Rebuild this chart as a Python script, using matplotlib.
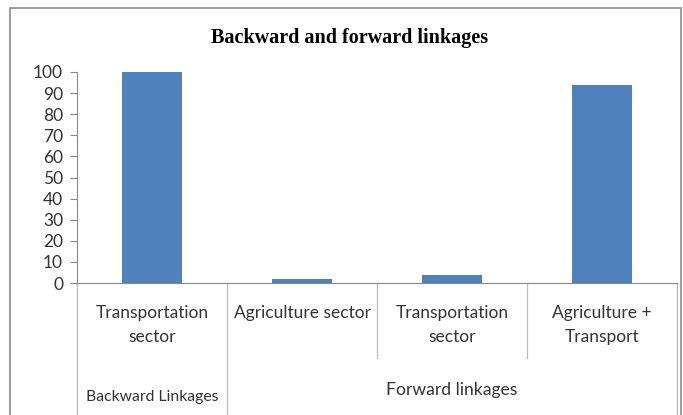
import matplotlib.pyplot as plt
from matplotlib.patches import Rectangle

# chart values
categories = ["Transportation\nsector", "Agriculture sector", "Transportation\nsector", "Agriculture +\nTransport"]
values = [100, 2, 4, 94]
groups = ["Backward Linkages", "Forward linkages"]
group_spans = [(0, 1), (1, 4)]
yticks = list(range(0, 101, 10))

plt.rcParams['font.family'] = ['Lato', 'DejaVu Sans']

fig = plt.figure(figsize=(6.83, 4.15), dpi=100)
W, H = 683, 415

# outer chart frame
fig.patches.append(Rectangle((10 / W, -0.01), 671 / W, 1 - 8 / H + 0.01,
                             transform=fig.transFigure, fill=False,
                             edgecolor='#8c8c8c', linewidth=1.2))

ax = fig.add_axes([77 / W, (H - 283) / H, 600 / W, 211 / H])
x = list(range(len(values)))
ax.bar(x, values, width=0.4, color='#4F81BD')
ax.set_xlim(-0.5, len(values) - 0.5)
ax.set_ylim(0, 100)
ax.set_yticks(yticks)
ax.tick_params(axis='y', labelsize=12.5, length=5, color='#888888', pad=5,
               labelcolor='#333333')
ax.set_xticks([])
for s in ['top', 'right']:
    ax.spines[s].set_visible(False)
ax.spines['left'].set_color('#888888')
ax.spines['bottom'].set_color('#888888')

tr = ax.get_xaxis_transform()
# category labels
for i, c in enumerate(categories):
    ax.text(i, (283 - 305) / 211, c, transform=tr, ha='center', va='top', fontsize=12.5,
            color='#333333', linespacing=1.6, clip_on=False)

# separators between categories
inner_bottom = (283 - 358) / 211
outer_bottom = (283 - 420) / 211
for b in range(len(values) + 1):
    xb = b - 0.5
    is_outer = b == 0 or b == len(values) or any(xb == s - 0.5 for s, e in group_spans)
    yb = outer_bottom if is_outer else inner_bottom
    ax.plot([xb, xb], [0, yb], transform=tr, color='#bbbbbb', lw=0.9, clip_on=False)

# group labels
ax.text(0, (283 - 397) / 211, groups[0], transform=tr, ha='center', va='center',
        fontsize=11.3, color='#333333', clip_on=False)
ax.text(2, (283 - 390) / 211, groups[1], transform=tr, ha='center', va='center',
        fontsize=12.6, color='#333333', clip_on=False)

fig.text(350 / W, 1 - 38 / H, "Backward and forward linkages", ha='center', va='center',
         fontsize=14.5, fontweight='bold', family='Liberation Serif')

fig.savefig('out.png', dpi=100)
